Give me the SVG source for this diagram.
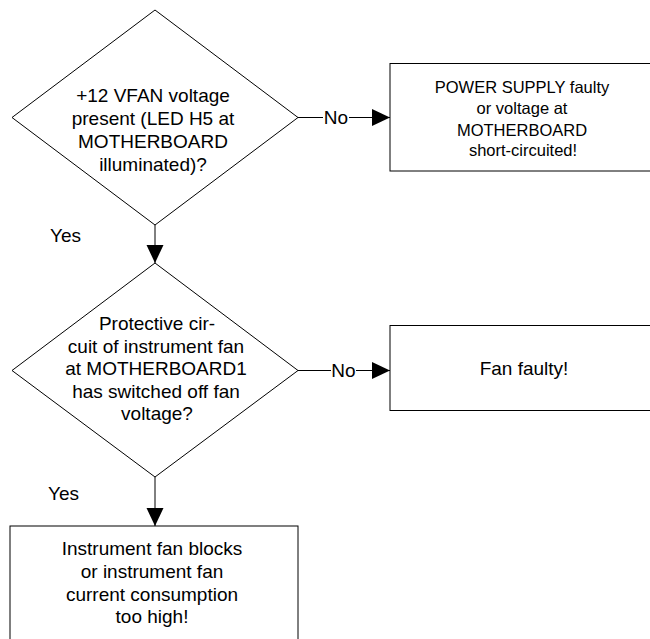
<svg xmlns="http://www.w3.org/2000/svg" width="650" height="639" viewBox="0 0 650 639">
<style>
.shape{fill:#fff;stroke:#000;stroke-width:1}
.line{fill:none;stroke:#000;stroke-width:1}
text{font-family:"Liberation Sans",Arial,sans-serif;font-size:19px;fill:#000;text-anchor:middle}
.small{font-size:16.5px}
.lbl{text-anchor:start}
</style>
<defs>
<marker id="arr" viewBox="0 0 18 18" refX="18" refY="9" markerWidth="18" markerHeight="18" markerUnits="userSpaceOnUse" orient="auto">
<path d="M0,0.5 L18,9 L0,17.5 Z" fill="#000"/>
</marker>
</defs>
<rect width="650" height="639" fill="#fff"/>
<g id="connectors">
<line class="line" x1="155" y1="225" x2="155" y2="263" marker-end="url(#arr)"/>
<line class="line" x1="155" y1="477" x2="155" y2="526" marker-end="url(#arr)"/>
<line class="line" x1="298" y1="117.5" x2="323" y2="117.5"/>
<line class="line" x1="349" y1="117.5" x2="390" y2="117.5" marker-end="url(#arr)"/>
<line class="line" x1="298" y1="370.5" x2="331" y2="370.5"/>
<line class="line" x1="356" y1="370.5" x2="390" y2="370.5" marker-end="url(#arr)"/>
<text class="lbl" x="50" y="242">Yes</text>
<text class="lbl" x="48" y="500">Yes</text>
<text x="336" y="124">No</text>
<text x="343.5" y="377">No</text>
</g>
<g id="decision1">
<polygon class="shape" points="155,10 298,117.5 155,225 12,117.5"/>
<text x="153" y="102">+12 VFAN voltage</text>
<text x="153" y="125">present (LED H5 at</text>
<text x="153" y="148">MOTHERBOARD</text>
<text x="153" y="171">illuminated)?</text>
</g>
<g id="result1">
<rect class="shape" x="390" y="63.5" width="272" height="107.5"/>
<text class="small" x="522" y="92.5">POWER SUPPLY faulty</text>
<text class="small" x="522" y="114">or voltage at</text>
<text class="small" x="522" y="135.5">MOTHERBOARD</text>
<text class="small" x="523" y="156">short-circuited!</text>
</g>
<g id="decision2">
<polygon class="shape" points="155,263 298,370.5 155,477 12,370.5"/>
<text x="157" y="330">Protective cir-</text>
<text x="156" y="352.5">cuit of instrument fan</text>
<text x="156" y="375">at MOTHERBOARD1</text>
<text x="156" y="397.5">has switched off fan</text>
<text x="157" y="420">voltage?</text>
</g>
<g id="result2">
<rect class="shape" x="390" y="325.5" width="272" height="85"/>
<text x="524" y="375">Fan faulty!</text>
</g>
<g id="result3">
<rect class="shape" x="10" y="526" width="288" height="125"/>
<text x="152" y="555">Instrument fan blocks</text>
<text x="152" y="578">or instrument fan</text>
<text x="152" y="600.5">current consumption</text>
<text x="152" y="623">too high!</text>
</g>
</svg>
